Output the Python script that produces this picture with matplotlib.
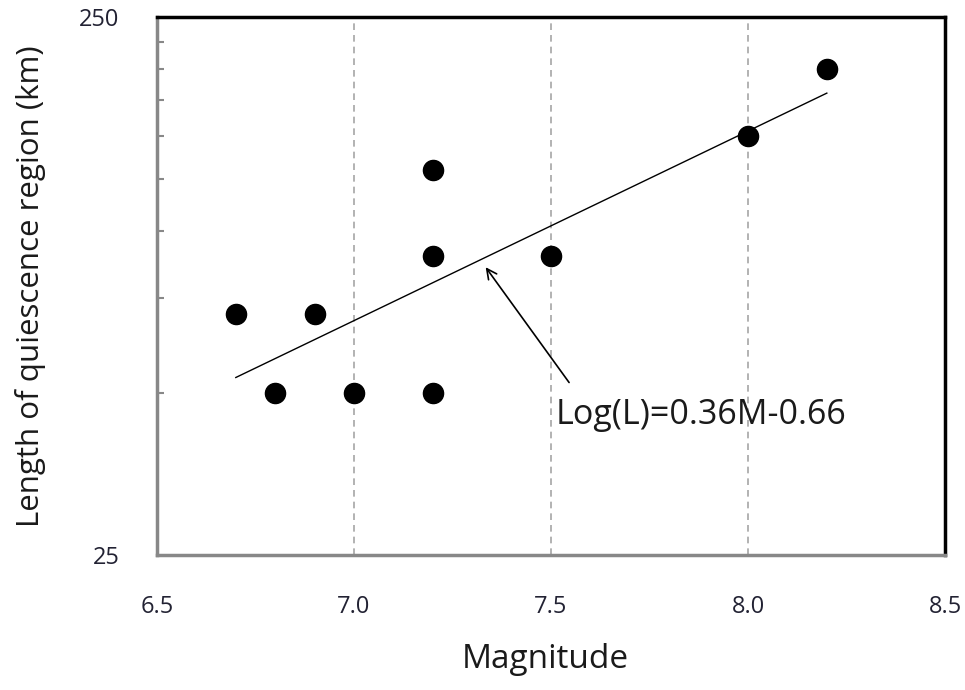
import numpy as np
import matplotlib
matplotlib.use("Agg")
import matplotlib.pyplot as plt
from matplotlib.ticker import FixedLocator, NullFormatter

plt.rcParams['font.family'] = ['Open Sans', 'DejaVu Sans']

# Data
magnitude = [6.7, 6.8, 6.9, 7.0, 7.2, 7.2, 7.2, 7.5, 8.0, 8.2]
length_km = [70, 50, 70, 50, 50, 90, 130, 90, 150, 200]
x_ticks = [6.5, 7.0, 7.5, 8.0, 8.5]
x_tick_labels = ["6.5", "7.0", "7.5", "8.0", "8.5"]
y_ticks = [25, 250]
y_tick_labels = ["25", "250"]
y_minor = [50, 75, 100, 125, 150, 175, 200, 225]
grid_x = [7.0, 7.5, 8.0]
equation = "Log(L)=0.36M-0.66"

fig = plt.figure(figsize=(9.65, 6.9), dpi=100)
ax = fig.add_axes([0.1627, 0.1957, 0.8166, 0.7797])

ax.set_yscale('log')
ax.set_xlim(6.5, 8.5)
ax.set_ylim(25, 250)

for gx in grid_x:
    ax.axvline(gx, color='#a6a6a6', linestyle=(0, (4, 3)), linewidth=1.2, zorder=1)

# Trend line (least squares in log space)
slope, intercept = np.polyfit(magnitude, np.log10(length_km), 1)
xs = np.array([min(magnitude), max(magnitude)])
ax.plot(xs, 10 ** (slope * xs + intercept), color='black', linewidth=1.0, zorder=2)

ax.plot(magnitude, length_km, 'o', color='black', markersize=14.5, zorder=3)

ax.annotate("", xy=(7.33, 86.5), xytext=(7.55, 51.8),
            arrowprops=dict(arrowstyle='->', color='black', lw=1.2,
                            mutation_scale=18), zorder=4)
ax.text(7.512, 45.5, equation, fontsize=24.5, color='#1a1a1a',
        ha='left', va='center', zorder=4)

ax.set_xticks(x_ticks)
ax.set_xticklabels(x_tick_labels)
ax.yaxis.set_major_locator(FixedLocator(y_ticks))
ax.set_yticklabels(y_tick_labels)
ax.yaxis.set_minor_locator(FixedLocator(y_minor))
ax.yaxis.set_minor_formatter(NullFormatter())

ax.tick_params(axis='x', which='both', length=0, pad=29, labelsize=17, labelcolor='#222233')
ax.tick_params(axis='y', which='major', length=0, pad=27, labelsize=17, labelcolor='#222233')
ax.tick_params(axis='y', which='minor', direction='in', length=5, width=1.5, color='#888888')

for side in ['left', 'bottom']:
    ax.spines[side].set_color('#888888')
    ax.spines[side].set_linewidth(2.5)
for side in ['top', 'right']:
    ax.spines[side].set_color('black')
    ax.spines[side].set_linewidth(2.5)

ax.set_xlabel("Magnitude", fontsize=24, color='#1a1a1a')
ax.set_ylabel("Length of quiescence region (km)", fontsize=22.5, color='#1a1a1a')
ax.xaxis.label.set_va('center')
ax.yaxis.label.set_va('center')
ax.xaxis.set_label_coords(0.493, -0.195)
ax.yaxis.set_label_coords(-0.161, 0.5)

fig.savefig("out.png", dpi=100)
